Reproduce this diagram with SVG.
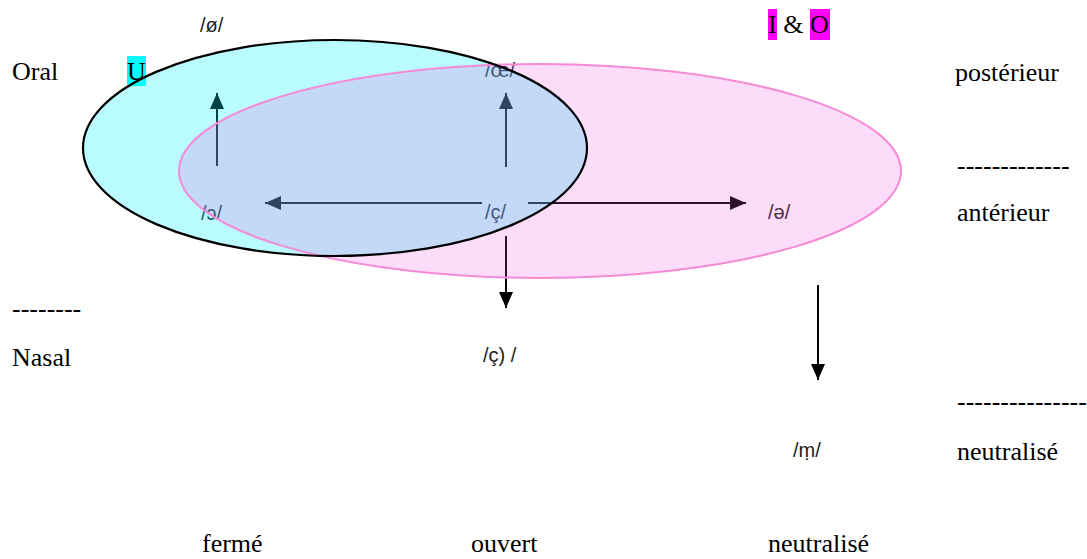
<svg xmlns="http://www.w3.org/2000/svg" width="1087" height="559" viewBox="0 0 1087 559">
<style>
.t{font-family:"Liberation Serif","Times New Roman",serif;font-size:26px;fill:#000}
.ipa{font-family:"Liberation Sans",Arial,sans-serif;font-size:20px;fill:#222}
.arr{stroke:#000;stroke-width:2;fill:none;marker-end:url(#ah)}
</style>
<defs>
<marker id="ah" viewBox="0 0 16 14" refX="16" refY="7" markerWidth="16" markerHeight="14" markerUnits="userSpaceOnUse" orient="auto">
<path d="M0,0 L16,7 L0,14 z" fill="#000"/>
</marker>
</defs>
<rect width="1087" height="559" fill="#fff"/>
<g id="connectors">
<path class="arr" d="M217,166 L217,93"/>
<path class="arr" d="M506,167 L506,93"/>
<path class="arr" d="M482,203 L265,203"/>
<path class="arr" d="M528,203 L746,203"/>
<path class="arr" d="M506,236 L506,308"/>
<path class="arr" d="M818,285 L818,380"/>
</g>
<g id="node-o-open"><text class="ipa" x="201" y="220">/ɔ/</text></g>
<g id="node-c-cedil"><text class="ipa" x="485" y="219">/ç/</text></g>
<g id="node-oe"><text class="ipa" x="485" y="77">/œ/</text></g>
<g id="node-schwa"><text class="ipa" x="768" y="219">/ə/</text></g>
<g id="sets">
<ellipse cx="335" cy="148" rx="252" ry="108" fill="#00f0ff" fill-opacity="0.27"/>
<ellipse cx="540" cy="171" rx="361" ry="107" fill="#f050dc" fill-opacity="0.2" stroke="#f58ad6" stroke-width="2"/>
</g>
<g id="node-U">
<rect x="127" y="56" width="19" height="30" fill="#00ffff"/>
<text class="t" x="127" y="80">U</text>
</g>
<ellipse cx="335" cy="148" rx="252" ry="108" fill="none" stroke="#000" stroke-width="2.2"/>
<g id="node-oslash"><text class="ipa" x="200" y="32">/ø/</text></g>
<g id="node-IO">
<rect x="768" y="9" width="9" height="31" fill="#ff00ff"/>
<rect x="810" y="9" width="20" height="31" fill="#ff00ff"/>
<text class="t" x="768" y="33" xml:space="preserve">I &amp; O</text>
</g>
<g id="node-c-nasal"><text class="ipa" x="483" y="362">/ç) /</text></g>
<g id="node-m"><text class="ipa" x="793" y="457">/ṃ/</text></g>
<g id="labels-left">
<text class="t" x="12" y="80">Oral</text>
<text class="t" x="12" y="317">--------</text>
<text class="t" x="12" y="366">Nasal</text>
</g>
<g id="labels-right">
<text class="t" x="955" y="81">postérieur</text>
<text class="t" x="957" y="174">-------------</text>
<text class="t" x="957" y="221">antérieur</text>
<text class="t" x="957" y="410">---------------</text>
<text class="t" x="957" y="460">neutralisé</text>
</g>
<g id="labels-bottom">
<text class="t" x="202" y="552">fermé</text>
<text class="t" x="471" y="552">ouvert</text>
<text class="t" x="768" y="552">neutralisé</text>
</g>
</svg>
